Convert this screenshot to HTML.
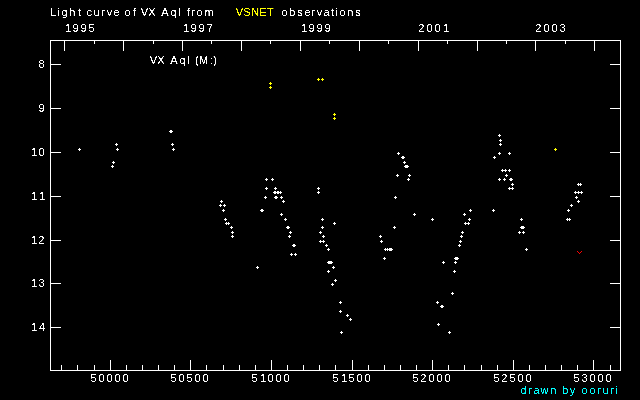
<!DOCTYPE html>
<html><head><meta charset="utf-8"><title>Light curve of VX Aql</title>
<style>html,body{margin:0;padding:0;background:#000;overflow:hidden}svg{display:block}text{white-space:pre}</style>
</head><body>
<svg width="640" height="400" viewBox="0 0 640 400">
<rect width="640" height="400" fill="#000"/>
<g shape-rendering="crispEdges">
<path fill="#fff" d="M50 40h571v1h-571zM50 370h571v1h-571zM50 40h1v331h-1zM620 40h1v331h-1zM61 365h1v5h-1zM77 365h1v5h-1zM94 365h1v5h-1zM110 360h1v10h-1zM126 365h1v5h-1zM142 365h1v5h-1zM158 365h1v5h-1zM174 365h1v5h-1zM190 360h1v10h-1zM206 365h1v5h-1zM223 365h1v5h-1zM239 365h1v5h-1zM255 365h1v5h-1zM271 360h1v10h-1zM287 365h1v5h-1zM303 365h1v5h-1zM319 365h1v5h-1zM335 365h1v5h-1zM352 360h1v10h-1zM368 365h1v5h-1zM384 365h1v5h-1zM400 365h1v5h-1zM416 365h1v5h-1zM432 360h1v10h-1zM448 365h1v5h-1zM464 365h1v5h-1zM481 365h1v5h-1zM497 365h1v5h-1zM513 360h1v10h-1zM529 365h1v5h-1zM545 365h1v5h-1zM561 365h1v5h-1zM577 365h1v5h-1zM593 360h1v10h-1zM610 365h1v5h-1zM64 41h1v10h-1zM94 41h1v3h-1zM123 41h1v10h-1zM153 41h1v3h-1zM182 41h1v10h-1zM211 41h1v3h-1zM241 41h1v10h-1zM270 41h1v3h-1zM300 41h1v10h-1zM329 41h1v3h-1zM359 41h1v10h-1zM388 41h1v3h-1zM418 41h1v10h-1zM447 41h1v3h-1zM477 41h1v10h-1zM506 41h1v3h-1zM535 41h1v10h-1zM565 41h1v3h-1zM594 41h1v10h-1zM51 64h10v1h-10zM610 64h10v1h-10zM51 108h10v1h-10zM610 108h10v1h-10zM51 152h10v1h-10zM610 152h10v1h-10zM51 196h10v1h-10zM610 196h10v1h-10zM51 240h10v1h-10zM610 240h10v1h-10zM51 283h10v1h-10zM610 283h10v1h-10zM51 327h10v1h-10zM610 327h10v1h-10z"/>
<path fill="#fff" d="M78 149h3v1h-3zM79 148h1v3h-1zM115 144h3v1h-3zM116 143h1v3h-1zM116 149h3v1h-3zM117 148h1v3h-1zM112 162h3v1h-3zM113 161h1v3h-1zM111 166h3v1h-3zM112 165h1v3h-1zM169 131h3v1h-3zM170 130h1v3h-1zM170 131h3v1h-3zM171 130h1v3h-1zM171 144h3v1h-3zM172 143h1v3h-1zM172 149h3v1h-3zM173 148h1v3h-1zM220 201h3v1h-3zM221 200h1v3h-1zM219 205h3v1h-3zM220 204h1v3h-1zM223 205h3v1h-3zM224 204h1v3h-1zM222 210h3v1h-3zM223 209h1v3h-1zM224 219h3v1h-3zM225 218h1v3h-1zM225 223h3v1h-3zM226 222h1v3h-1zM227 223h3v1h-3zM228 222h1v3h-1zM230 227h3v1h-3zM231 226h1v3h-1zM231 232h3v1h-3zM232 231h1v3h-1zM231 236h3v1h-3zM232 235h1v3h-1zM256 267h3v1h-3zM257 266h1v3h-1zM260 210h3v1h-3zM261 209h1v3h-1zM261 210h3v1h-3zM262 209h1v3h-1zM265 179h3v1h-3zM266 178h1v3h-1zM271 179h3v1h-3zM272 178h1v3h-1zM265 188h3v1h-3zM266 187h1v3h-1zM274 188h3v1h-3zM275 187h1v3h-1zM273 192h3v1h-3zM274 191h1v3h-1zM274 192h3v1h-3zM275 191h1v3h-1zM276 192h3v1h-3zM277 191h1v3h-1zM277 192h3v1h-3zM278 191h1v3h-1zM279 192h3v1h-3zM280 191h1v3h-1zM264 197h3v1h-3zM265 196h1v3h-1zM274 197h3v1h-3zM275 196h1v3h-1zM275 197h3v1h-3zM276 196h1v3h-1zM280 197h3v1h-3zM281 196h1v3h-1zM282 201h3v1h-3zM283 200h1v3h-1zM280 214h3v1h-3zM281 213h1v3h-1zM284 219h3v1h-3zM285 218h1v3h-1zM286 227h3v1h-3zM287 226h1v3h-1zM287 227h3v1h-3zM288 226h1v3h-1zM289 232h3v1h-3zM290 231h1v3h-1zM288 236h3v1h-3zM289 235h1v3h-1zM292 245h3v1h-3zM293 244h1v3h-1zM293 245h3v1h-3zM294 244h1v3h-1zM290 254h3v1h-3zM291 253h1v3h-1zM294 254h3v1h-3zM295 253h1v3h-1zM317 188h3v1h-3zM318 187h1v3h-1zM317 192h3v1h-3zM318 191h1v3h-1zM321 219h3v1h-3zM322 218h1v3h-1zM333 223h3v1h-3zM334 222h1v3h-1zM321 227h3v1h-3zM322 226h1v3h-1zM319 232h3v1h-3zM320 231h1v3h-1zM322 236h3v1h-3zM323 235h1v3h-1zM319 241h3v1h-3zM320 240h1v3h-1zM322 241h3v1h-3zM323 240h1v3h-1zM325 245h3v1h-3zM326 244h1v3h-1zM327 249h3v1h-3zM328 248h1v3h-1zM327 262h3v1h-3zM328 261h1v3h-1zM328 262h3v1h-3zM329 261h1v3h-1zM329 262h3v1h-3zM330 261h1v3h-1zM330 262h3v1h-3zM331 261h1v3h-1zM332 267h3v1h-3zM333 266h1v3h-1zM327 271h3v1h-3zM328 270h1v3h-1zM334 280h3v1h-3zM335 279h1v3h-1zM331 284h3v1h-3zM332 283h1v3h-1zM339 302h3v1h-3zM340 301h1v3h-1zM339 311h3v1h-3zM340 310h1v3h-1zM346 315h3v1h-3zM347 314h1v3h-1zM349 319h3v1h-3zM350 318h1v3h-1zM340 332h3v1h-3zM341 331h1v3h-1zM397 153h3v1h-3zM398 152h1v3h-1zM401 157h3v1h-3zM402 156h1v3h-1zM402 157h3v1h-3zM403 156h1v3h-1zM403 162h3v1h-3zM404 161h1v3h-1zM404 166h3v1h-3zM405 165h1v3h-1zM405 166h3v1h-3zM406 165h1v3h-1zM406 166h3v1h-3zM407 165h1v3h-1zM396 175h3v1h-3zM397 174h1v3h-1zM408 175h3v1h-3zM409 174h1v3h-1zM407 179h3v1h-3zM408 178h1v3h-1zM394 197h3v1h-3zM395 196h1v3h-1zM413 214h3v1h-3zM414 213h1v3h-1zM431 219h3v1h-3zM432 218h1v3h-1zM393 227h3v1h-3zM394 226h1v3h-1zM379 236h3v1h-3zM380 235h1v3h-1zM380 241h3v1h-3zM381 240h1v3h-1zM384 249h3v1h-3zM385 248h1v3h-1zM386 249h3v1h-3zM387 248h1v3h-1zM388 249h3v1h-3zM389 248h1v3h-1zM389 249h3v1h-3zM390 248h1v3h-1zM390 249h3v1h-3zM391 248h1v3h-1zM383 258h3v1h-3zM384 257h1v3h-1zM469 210h3v1h-3zM470 209h1v3h-1zM492 210h3v1h-3zM493 209h1v3h-1zM463 214h3v1h-3zM464 213h1v3h-1zM468 219h3v1h-3zM469 218h1v3h-1zM464 223h3v1h-3zM465 222h1v3h-1zM467 223h3v1h-3zM468 222h1v3h-1zM461 232h3v1h-3zM462 231h1v3h-1zM460 236h3v1h-3zM461 235h1v3h-1zM459 241h3v1h-3zM460 240h1v3h-1zM458 245h3v1h-3zM459 244h1v3h-1zM454 258h3v1h-3zM455 257h1v3h-1zM455 258h3v1h-3zM456 257h1v3h-1zM456 258h3v1h-3zM457 257h1v3h-1zM442 262h3v1h-3zM443 261h1v3h-1zM454 262h3v1h-3zM455 261h1v3h-1zM453 271h3v1h-3zM454 270h1v3h-1zM451 293h3v1h-3zM452 292h1v3h-1zM436 302h3v1h-3zM437 301h1v3h-1zM440 306h3v1h-3zM441 305h1v3h-1zM441 306h3v1h-3zM442 305h1v3h-1zM437 324h3v1h-3zM438 323h1v3h-1zM448 332h3v1h-3zM449 331h1v3h-1zM498 135h3v1h-3zM499 134h1v3h-1zM499 140h3v1h-3zM500 139h1v3h-1zM499 144h3v1h-3zM500 143h1v3h-1zM498 153h3v1h-3zM499 152h1v3h-1zM508 153h3v1h-3zM509 152h1v3h-1zM493 157h3v1h-3zM494 156h1v3h-1zM501 170h3v1h-3zM502 169h1v3h-1zM504 170h3v1h-3zM505 169h1v3h-1zM508 170h3v1h-3zM509 169h1v3h-1zM505 175h3v1h-3zM506 174h1v3h-1zM498 179h3v1h-3zM499 178h1v3h-1zM503 179h3v1h-3zM504 178h1v3h-1zM509 179h3v1h-3zM510 178h1v3h-1zM510 179h3v1h-3zM511 178h1v3h-1zM511 184h3v1h-3zM512 183h1v3h-1zM508 188h3v1h-3zM509 187h1v3h-1zM511 188h3v1h-3zM512 187h1v3h-1zM520 219h3v1h-3zM521 218h1v3h-1zM520 227h3v1h-3zM521 226h1v3h-1zM521 227h3v1h-3zM522 226h1v3h-1zM522 227h3v1h-3zM523 226h1v3h-1zM518 232h3v1h-3zM519 231h1v3h-1zM522 232h3v1h-3zM523 231h1v3h-1zM525 249h3v1h-3zM526 248h1v3h-1zM577 184h3v1h-3zM578 183h1v3h-1zM579 184h3v1h-3zM580 183h1v3h-1zM574 192h3v1h-3zM575 191h1v3h-1zM577 192h3v1h-3zM578 191h1v3h-1zM580 192h3v1h-3zM581 191h1v3h-1zM575 197h3v1h-3zM576 196h1v3h-1zM577 201h3v1h-3zM578 200h1v3h-1zM570 205h3v1h-3zM571 204h1v3h-1zM567 210h3v1h-3zM568 209h1v3h-1zM566 219h3v1h-3zM567 218h1v3h-1zM568 219h3v1h-3zM569 218h1v3h-1z"/>
<path fill="#ff0" d="M269 83h3v1h-3zM270 82h1v3h-1zM269 87h3v1h-3zM270 86h1v3h-1zM317 79h3v1h-3zM318 78h1v3h-1zM321 79h3v1h-3zM322 78h1v3h-1zM333 114h3v1h-3zM334 113h1v3h-1zM333 118h3v1h-3zM334 117h1v3h-1zM554 149h3v1h-3zM555 148h1v3h-1z"/>
<path fill="#f00" d="M577 251h1v1h-1zM578 252h1v1h-1zM579 253h1v1h-1zM580 252h1v1h-1zM581 251h1v1h-1z"/>
</g>
<defs><filter id="crisp" x="0" y="0" width="640" height="400" filterUnits="userSpaceOnUse" color-interpolation-filters="sRGB"><feComponentTransfer><feFuncA type="linear" slope="6.0" intercept="-2.1"/></feComponentTransfer></filter></defs>
<g font-family="'Liberation Sans', sans-serif" font-size="11px" filter="url(#crisp)">
<text x="50 57 61.5 69.25 78.25 82.25 86.5 93.5 101.25 106.75 113.5 117.5 124.5 133.25 137.25 140.75 148.25 152.25 161.25 170.5 178 182 187.25 191.25 196.5 204.5" y="16" fill="#fff">Light curve of VX Aql from</text>
<text x="235.75 243.25 251.25 259.25 267" y="16" fill="#ff0">VSNET</text>
<text x="281.5 289.25 297.25 304.5 311.25 316.75 323.5 331.25 335 339.5 347.25 355.25" y="16" fill="#fff">observations</text>
<text x="65 72.5 80.5 88.5" y="32" fill="#fff">1995</text>
<text x="183 190.5 198.5 206.75" y="32" fill="#fff">1997</text>
<text x="301 308.5 316.5 324.5" y="32" fill="#fff">1999</text>
<text x="418.25 426.5 434.5 443" y="32" fill="#fff">2001</text>
<text x="535.25 543.5 551.5 559.5" y="32" fill="#fff">2003</text>
<text x="90.5 98.5 106.5 114.5 122.5" y="382" fill="#fff">50000</text>
<text x="170.5 178.5 186.5 194.5 202.5" y="382" fill="#fff">50500</text>
<text x="251.5 260 267.5 275.5 283.5" y="382" fill="#fff">51000</text>
<text x="332.5 341 348.5 356.5 364.5" y="382" fill="#fff">51500</text>
<text x="412.5 420.25 428.5 436.5 444.5" y="382" fill="#fff">52000</text>
<text x="493.5 501.25 509.5 517.5 525.5" y="382" fill="#fff">52500</text>
<text x="573.5 581.5 589.5 597.5 605.5" y="382" fill="#fff">53000</text>
<text x="38.5" y="68" fill="#fff">8</text>
<text x="38.5" y="112" fill="#fff">9</text>
<text x="31 38.5" y="156" fill="#fff">10</text>
<text x="31 39" y="200" fill="#fff">11</text>
<text x="31 38.25" y="244" fill="#fff">12</text>
<text x="31 38.5" y="287" fill="#fff">13</text>
<text x="31 39" y="331" fill="#fff">14</text>
<text x="149.75 157.25 161.25 170.25 179.5 187 191 195 199 210 213.25" y="64" fill="#fff">VX Aql (M:)</text>
<text x="520.5 528.25 533.5 540.5 550.25 554.25 562.25 569.75 573.75 581.5 589.5 597.25 602.5 610.25 615" y="394" fill="#0ff">drawn by ooruri</text>
</g>
</svg>
</body></html>
